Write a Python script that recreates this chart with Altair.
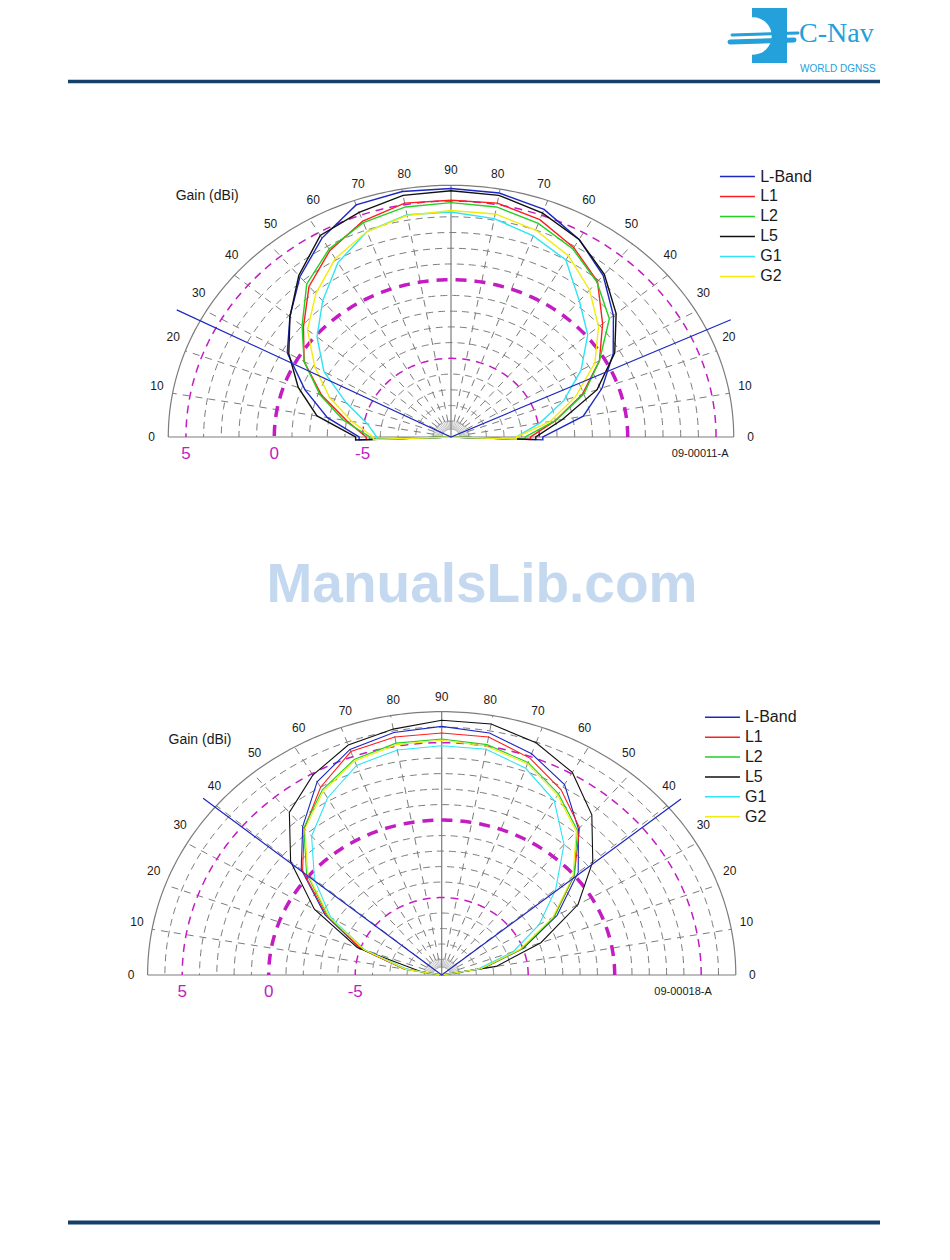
import altair as alt
import numpy as np
import pandas as pd

# ---------------------------------------------------------------- data
SERIES = ["L-Band", "L1", "L2", "L5", "G1", "G2"]
SERIES_COLORS = ["#1c28c0", "#ff1e1e", "#22d022", "#101010", "#2ee4f4", "#f2ec0c"]

# polar angle in degrees: 0 = right horizon, 90 = zenith, 180 = left horizon
ANGLES = [0, 10, 20, 30, 40, 50, 60, 70, 80, 90, 100, 110, 120, 130, 140, 150, 160, 170, 180]

# upper pattern (09-00011-A), gain in dBi
TOP_LBAND = [-4.8, -2.4, -0.9, 0.6, 2.0, 3.4, 4.5, 5.4, 5.75, 5.8, 5.85, 5.7, 4.6, 3.3, 1.9, 0.7, -1.2, -2.9, -4.8]
TOP_L1 = [-5.5, -4.0, -2.1, -0.3, 1.2, 2.9, 3.9, 4.7, 5.1, 5.05, 5.1, 4.6, 3.7, 2.5, 0.9, -0.4, -2.2, -4.0, -5.2]
TOP_L2 = [-5.8, -4.0, -2.0, -0.3, 1.7, 2.85, 3.8, 4.45, 4.85, 4.9, 4.85, 4.5, 3.8, 2.7, 1.0, -0.4, -2.1, -3.8, -5.4]
TOP_L5 = [-5.2, -3.6, -1.2, 0.7, 2.2, 3.5, 4.5, 5.15, 5.6, 5.65, 5.6, 5.2, 4.8, 3.4, 1.9, 0.6, -0.8, -2.3, -4.6]
TOP_G1 = [-6.3, -4.9, -3.2, -1.5, 0.1, 1.3, 3.0, 3.6, 4.1, 4.3, 4.35, 3.9, 2.8, 1.3, -0.1, -1.7, -3.7, -5.2, -5.8]
TOP_G2 = [-6.3, -4.3, -2.5, -0.6, 0.9, 2.2, 3.3, 4.0, 4.4, 4.4, 4.3, 3.9, 3.1, 1.9, 0.6, -1.1, -2.7, -4.3, -5.6]

# lower pattern (09-00018-A), gain in dBi
BOT_LBAND = [-10, -7.6, -5.0, -2.3, 0.3, 2.3, 4.2, 5.2, 5.87, 6.05, 5.9, 5.5, 4.4, 2.5, 0.6, -2.2, -5.0, -7.8, -10]
BOT_L1 = [-10, -7.6, -5.1, -2.5, 0.0, 2.4, 3.8, 4.9, 5.6, 5.62, 5.6, 5.35, 4.0, 2.35, 0.5, -2.3, -5.0, -7.8, -10]
BOT_L2 = [-10, -7.6, -5.1, -2.5, 0.0, 2.2, 3.5, 4.6, 5.1, 5.24, 5.2, 4.8, 3.8, 2.4, 0.2, -2.4, -5.2, -7.9, -10]
BOT_L5 = [-10, -6.8, -3.9, -0.9, 1.4, 3.5, 5.1, 5.95, 6.45, 6.45, 6.12, 5.8, 4.9, 3.7, 1.4, -1.5, -4.8, -8.8, -10]
BOT_G1 = [-10, -7.9, -5.6, -3.5, -1.4, 1.0, 3.0, 4.2, 4.8, 4.8, 4.75, 4.4, 3.2, 1.7, -0.4, -2.6, -5.3, -8.0, -10]
BOT_G2 = [-10, -7.7, -5.2, -2.6, -0.1, 2.1, 3.4, 4.5, 5.0, 5.15, 5.1, 4.7, 3.7, 2.3, 0.1, -2.5, -5.2, -7.9, -10]

# straight L-Band lines from the centre: [left elevation, right elevation], length (dB above centre)
TOP_MASK_ELEV = [27.5, 25.2]
BOT_MASK_ELEV = [39.6, 39.4]
TOP_MASK_LEN = 17.5
BOT_MASK_LEN = 17.9

ANGLE_TICKS = [0, 10, 20, 30, 40, 50, 60, 70, 80, 90, 100, 110, 120, 130, 140, 150, 160, 170, 180]
ANGLE_TEXT = ["0", "10", "20", "30", "40", "50", "60", "70", "80", "90",
              "80", "70", "60", "50", "40", "30", "20", "10", "0"]
GAIN_MARKS = [5, 0, -5]          # magenta reference circles, dBi
GAIN_FLOOR = -10                 # centre of the plot, dBi

# ---------------------------------------------------------------- layout
W, H = 934, 1244
GRAY = "#7c7c7c"
MAG = "#c21cc2"

TOP = dict(cx=443.0, cy=429.0, kx=17.67, ky=15.73, rmax=16, width=1.4,
           gain_xy=(-13.8, 15.3), fig_xy=(14.1, -1.05), mag_dy=-1.05,
           leg_x=(15.22, 17.2, 17.5), leg_y=(16.56, 1.27), fig_id="09-00011-A")
BOT = dict(cx=433.7, cy=967.0, kx=17.30, ky=15.49, rmax=17, width=1.1,
           gain_xy=(-13.97, 15.17), fig_xy=(13.95, -1.1), mag_dy=-1.12,
           leg_x=(15.22, 17.24, 17.53), leg_y=(16.64, 1.285), fig_id="09-00018-A")


def scales(lay):
    xdom = [-lay["cx"] / lay["kx"], (W - lay["cx"]) / lay["kx"]]
    ymax = lay["cy"] / lay["ky"]
    ydom = [ymax - H / lay["ky"], ymax]
    return (alt.Scale(domain=xdom, nice=False, zero=False),
            alt.Scale(domain=ydom, nice=False, zero=False))


def arc(r, gid, a0=0, a1=180):
    th = np.radians(np.linspace(a0, a1, 181))
    return pd.DataFrame({"gid": gid, "idx": np.arange(len(th)),
                         "x": r * np.cos(th), "y": r * np.sin(th)})


def seg(x0, y0, x1, y1, gid):
    return pd.DataFrame({"gid": gid, "idx": [0, 1], "x": [x0, x1], "y": [y0, y1]})


def polar_chart(lay, gains, pad, mask_elev, mask_len):
    R = lay["rmax"]
    sx, sy = scales(lay)

    def E(xf="x"):
        return dict(x=alt.X(f"{xf}:Q", scale=sx, axis=None),
                    y=alt.Y("y:Q", scale=sy, axis=None))

    mag_r = [g - GAIN_FLOOR for g in GAIN_MARKS]

    gray_arcs = pd.concat([arc(r, f"g{r}") for r in range(1, R) if r not in mag_r])
    spk = []
    for a in range(10, 180, 10):
        if a == 90:
            continue
        t = np.radians(a)
        spk.append(seg(np.cos(t), np.sin(t), R * np.cos(t), R * np.sin(t), f"s{a}"))
    spk = pd.concat(spk)
    inner = []
    for a in range(6, 180, 6):
        t = np.radians(a)
        inner.append(seg(0.5 * np.cos(t), 0.5 * np.sin(t), 1.1 * np.cos(t), 1.1 * np.sin(t), f"i{a}"))
    inner = pd.concat(inner)
    solid = pd.concat([arc(R, "outer"), seg(-R, 0, R, 0, "base"), seg(0, 0, 0, R, "vert")])
    thin_m = pd.concat([arc(r, f"m{r}") for r in mag_r if r != 10])
    thick_m = arc(10, "m10")

    def lines(df, color, width, dash=None):
        kw = dict(color=color, strokeWidth=width, clip=False)
        if dash:
            kw["strokeDash"] = dash
        return alt.Chart(df).mark_line(**kw).encode(
            detail="gid:N", order=alt.Order("idx:Q"), **E())

    layers = [
        lines(gray_arcs, GRAY, 1.0, [7, 5]),
        lines(spk, GRAY, 1.0, [7, 6]),
        lines(inner, "#9a9a9a", 0.6),
        lines(arc(0.5, "inner"), "#9a9a9a", 0.8),
        lines(solid, GRAY, 1.2),
        lines(thin_m, MAG, 1.5, [8, 6]),
        lines(thick_m, MAG, 3.5, [11, 8]),
    ]

    # pattern curves
    rows = []
    for s, g in zip(SERIES, gains):
        pts = list(zip(ANGLES, g))
        if pad:
            pts = [(-2, GAIN_FLOOR), (-2, g[0])] + pts + [(182, g[-1]), (182, GAIN_FLOOR)]
        for i, (a, v) in enumerate(pts):
            rows.append({"series": s, "idx": i, "angle": a, "gain": v})
    curves = pd.DataFrame(rows)
    cs = alt.Color("series:N", scale=alt.Scale(domain=SERIES, range=SERIES_COLORS), legend=None)
    layers.append(
        alt.Chart(curves).mark_line(strokeWidth=lay["width"], clip=False)
        .transform_calculate(
            x=f"max(datum.gain - ({GAIN_FLOOR}), 0) * cos(datum.angle * PI / 180)",
            y=f"max(datum.gain - ({GAIN_FLOOR}), 0) * sin(datum.angle * PI / 180)")
        .encode(color=cs, order=alt.Order("idx:Q"), **E())
    )

    # straight L-Band lines
    mask = pd.DataFrame({"idx": [0, 1, 2],
                         "angle": [180 - mask_elev[0], 0, mask_elev[1]],
                         "r": [mask_len, 0, mask_len]})
    layers.append(
        alt.Chart(mask).mark_line(color=SERIES_COLORS[0], strokeWidth=1.2, clip=False)
        .transform_calculate(x="datum.r * cos(datum.angle * PI / 180)",
                             y="datum.r * sin(datum.angle * PI / 180)")
        .encode(order=alt.Order("idx:Q"), **E())
    )

    # angle labels
    lab = pd.DataFrame({"a": ANGLE_TICKS, "t": ANGLE_TEXT})
    elev = np.where(lab.a <= 90, lab.a, 180 - lab.a)
    off = 3.0 * np.sin(np.radians(2 * elev))
    th = np.radians(np.where(lab.a <= 90, lab.a + off, lab.a - off))
    lab["x"] = (R + 0.95) * np.cos(th)
    lab["y"] = (R + 0.95) * np.sin(th)
    layers.append(alt.Chart(lab).mark_text(font="Liberation Sans", fontSize=12, color="#1a1a1a",
                                           baseline="middle", align="center")
                  .encode(text="t:N", **E()))

    # magenta gain labels
    ml = pd.DataFrame({"g": GAIN_MARKS})
    ml["x"] = -(ml.g - GAIN_FLOOR)
    ml["y"] = lay["mag_dy"]
    ml["t"] = ml.g.astype(str)
    layers.append(alt.Chart(ml).mark_text(font="Liberation Sans", fontSize=17, color=MAG,
                                          baseline="middle", align="center")
                  .encode(text="t:N", **E()))

    # texts
    tx = pd.DataFrame({"x": [lay["gain_xy"][0]], "y": [lay["gain_xy"][1]], "t": ["Gain (dBi)"]})
    layers.append(alt.Chart(tx).mark_text(font="Liberation Sans", fontSize=14, color="#1a1a1a",
                                          baseline="middle", align="center")
                  .encode(text="t:N", **E()))
    fx = pd.DataFrame({"x": [lay["fig_xy"][0]], "y": [lay["fig_xy"][1]], "t": [lay["fig_id"]]})
    layers.append(alt.Chart(fx).mark_text(font="Liberation Sans", fontSize=11, color="#1a1a1a",
                                          baseline="middle", align="center")
                  .encode(text="t:N", **E()))

    # legend
    x0, x1, xt = lay["leg_x"]
    y0, dy = lay["leg_y"]
    leg = pd.DataFrame({"series": SERIES, "i": range(len(SERIES))})
    leg["y"] = y0 - leg.i * dy
    leg["x"] = x0
    leg["x2"] = x1
    leg["xt"] = xt
    layers.append(alt.Chart(leg).mark_rule(strokeWidth=1.5, clip=False)
                  .encode(x2="x2:Q", color=cs, **E()))
    layers.append(alt.Chart(leg).mark_text(font="Liberation Sans", fontSize=16, color="#1a1a1a",
                                           baseline="middle", align="left")
                  .encode(text="series:N", **E("xt")))
    return alt.layer(*layers)


top = polar_chart(TOP, [TOP_LBAND, TOP_L1, TOP_L2, TOP_L5, TOP_G1, TOP_G2], True,
                  TOP_MASK_ELEV, TOP_MASK_LEN)
bot = polar_chart(BOT, [BOT_LBAND, BOT_L1, BOT_L2, BOT_L5, BOT_G1, BOT_G2], False,
                  BOT_MASK_ELEV, BOT_MASK_LEN)

# ---------------------------------------------------------------- page furniture
one = pd.DataFrame({"k": [0]})
LOGO = "#24a0da"
NAVY = "#173f6b"
deco = alt.layer(
    alt.Chart(one).mark_rule(color=NAVY, strokeWidth=3.5).encode(
        x=alt.value(60), x2=alt.value(872), y=alt.value(73.5), y2=alt.value(73.5)),
    alt.Chart(one).mark_rule(color=NAVY, strokeWidth=4).encode(
        x=alt.value(60), x2=alt.value(872), y=alt.value(1214.5), y2=alt.value(1214.5)),
    alt.Chart(one).mark_rect(color=LOGO).encode(
        x=alt.value(744), x2=alt.value(779), y=alt.value(0), y2=alt.value(55)),
    alt.Chart(one).mark_point(shape="circle", filled=True, color="white", opacity=1, size=1400).encode(
        x=alt.value(745), y=alt.value(28)),
    alt.Chart(one).mark_rule(color=LOGO, strokeWidth=3, strokeCap="round").encode(
        x=alt.value(724), x2=alt.value(790), y=alt.value(27), y2=alt.value(25)),
    alt.Chart(one).mark_rule(color=LOGO, strokeWidth=5, strokeCap="round").encode(
        x=alt.value(722), x2=alt.value(786), y=alt.value(34), y2=alt.value(32)),
    alt.Chart(one).mark_text(text="C-Nav", font="Liberation Serif", fontSize=28, color=LOGO,
                             align="left", baseline="alphabetic").encode(
        x=alt.value(791), y=alt.value(34)),
    alt.Chart(one).mark_text(text="WORLD DGNSS", font="Liberation Sans", fontSize=10, color=LOGO,
                             align="left", baseline="alphabetic").encode(
        x=alt.value(792), y=alt.value(64)),
    alt.Chart(one).mark_text(text="ManualsLib.com", font="Liberation Sans", fontWeight="bold",
                             fontSize=55, color="#c4d9f0", align="center",
                             baseline="alphabetic").encode(
        x=alt.value(474), y=alt.value(594)),
)

chart = (
    alt.layer(deco, top, bot)
    .resolve_scale(x="independent", y="independent", color="independent")
    .properties(width=W, height=H, padding=0, autosize=alt.AutoSizeParams(type="none"))
    .configure_view(stroke=None)
)

chart.save("out.html", embed_options={"renderer": "svg", "actions": False})
